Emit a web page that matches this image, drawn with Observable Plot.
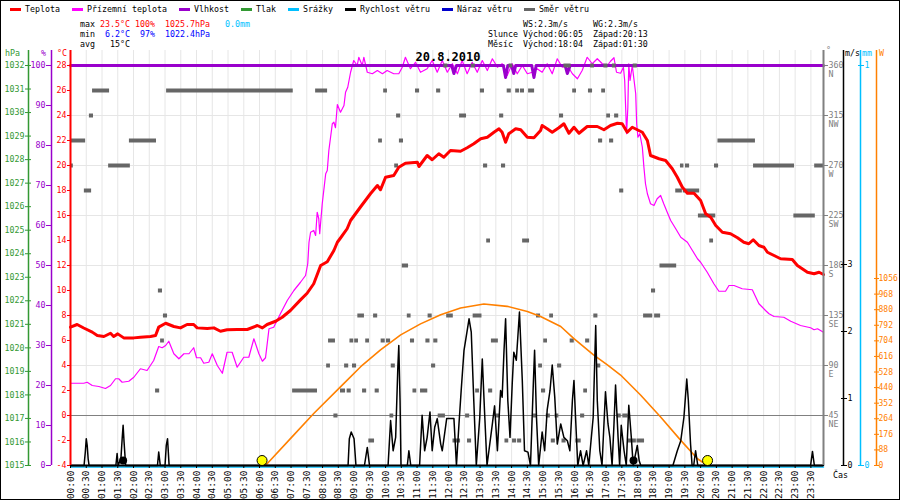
<!DOCTYPE html>
<html><head><meta charset="utf-8">
<script src="https://cdn.jsdelivr.net/npm/d3@7"></script>
<script src="https://cdn.jsdelivr.net/npm/@observablehq/plot@0.6"></script>
<style>
body{margin:0;background:#fff}
#wrap{position:relative;width:900px;height:500px;overflow:hidden;font-family:"DejaVu Sans Mono",monospace;background:#fff}
#chart svg{display:block;position:absolute;left:0;top:0}
#frame{position:absolute;left:0;top:0;width:900px;height:500px;box-sizing:border-box;border:1px solid #000;pointer-events:none}
.t{position:absolute;white-space:pre;font-size:8.3px;line-height:8.3px;color:#000}
.sw{position:absolute;height:3px;width:11px}
</style></head>
<body>
<div id="wrap"><div id="chart"></div><div id="hdr"></div><div id="frame"></div></div>
<script>
// ---------------- data ----------------
const temperature = [[0,7.07],[0.21,7.28],[0.42,7.0],[0.69,6.67],[0.85,6.4],[1.06,6.32],[1.27,6.58],[1.37,6.32],[1.5,6.53],[1.69,6.21],[2.01,6.21],[2.22,6.26],[2.54,6.32],[2.7,6.4],[2.8,7.07],[3.02,7.38],[3.28,7.12],[3.49,7.01],[3.7,7.28],[3.91,7.28],[4.02,7.01],[4.34,6.96],[4.55,7.01],[4.76,6.74],[4.97,6.86],[5.29,6.88],[5.61,6.88],[5.93,7.2],[6.09,7.01],[6.24,7.28],[6.51,7.54],[6.72,7.86],[6.98,8.4],[7.3,9.25],[7.51,9.78],[7.72,10.54],[7.94,12.0],[8.15,12.3],[8.36,13.2],[8.47,13.86],[8.57,14.2],[8.78,14.94],[8.89,15.6],[9.21,16.7],[9.52,17.74],[9.74,18.4],[9.84,18.06],[10.0,19.06],[10.26,19.2],[10.42,19.86],[10.63,20.18],[11.01,20.26],[11.06,19.92],[11.32,20.8],[11.48,20.46],[11.69,20.94],[11.85,20.66],[12.06,21.2],[12.38,21.14],[12.59,21.42],[12.8,21.74],[13.02,22.14],[13.23,22.26],[13.44,22.66],[13.6,22.94],[13.7,22.66],[13.81,21.86],[13.91,22.54],[14.13,22.94],[14.29,22.86],[14.5,22.26],[14.71,22.22],[14.92,22.8],[14.97,23.2],[15.13,22.94],[15.29,22.66],[15.5,23.02],[15.66,23.34],[15.82,22.58],[15.98,23.06],[16.14,22.58],[16.4,23.12],[16.72,23.12],[16.93,22.86],[17.14,23.2],[17.36,23.38],[17.51,23.34],[17.67,22.66],[17.83,23.06],[17.99,22.86],[18.15,22.66],[18.31,22.0],[18.41,20.8],[18.68,20.54],[18.89,20.4],[19.1,19.74],[19.26,19.06],[19.42,18.26],[19.58,17.78],[19.79,17.78],[20.0,17.2],[20.16,16.14],[20.32,15.86],[20.48,15.2],[20.69,14.66],[20.95,14.54],[21.17,14.22],[21.37,13.86],[21.53,13.74],[21.67,14.06],[21.85,13.6],[22.01,13.46],[22.12,13.06],[22.33,12.8],[22.54,12.54],[22.91,12.48],[23.07,12.0],[23.39,11.46],[23.6,11.34],[23.76,11.46],[23.9,11.28]];

const groundTemp = [[0,2.58],[0.42,2.58],[0.53,2.66],[0.69,2.4],[0.9,2.32],[1.11,2.16],[1.27,2.4],[1.43,2.94],[1.53,2.94],[1.64,2.66],[1.85,2.74],[2.01,3.06],[2.22,3.74],[2.43,3.6],[2.64,4.4],[2.8,5.52],[2.91,5.42],[3.02,5.6],[3.12,5.94],[3.28,4.94],[3.44,4.54],[3.6,4.94],[3.76,4.94],[3.91,5.42],[4.0,4.62],[4.13,4.62],[4.23,4.18],[4.39,4.26],[4.5,4.94],[4.66,4.0],[4.82,3.38],[4.97,5.06],[5.13,5.06],[5.29,3.86],[5.5,4.66],[5.66,4.66],[5.82,6.14],[5.98,4.94],[6.09,4.34],[6.19,4.62],[6.3,6.94],[6.45,7.06],[6.67,8.18],[6.88,9.2],[7.09,10.0],[7.3,10.66],[7.46,11.2],[7.53,12.14],[7.57,13.86],[7.62,14.66],[7.72,14.8],[7.78,14.4],[7.83,16.26],[7.88,15.74],[7.91,14.54],[7.99,16.94],[8.1,19.34],[8.15,19.6],[8.2,21.2],[8.31,23.34],[8.36,23.46],[8.41,23.02],[8.47,24.88],[8.57,24.26],[8.68,24.8],[8.73,25.86],[8.8,26.26],[8.89,27.46],[8.99,28.4],[9.1,28.0],[9.15,28.66],[9.26,28.0],[9.31,28.66],[9.42,27.46],[9.58,27.34],[9.74,27.6],[9.9,27.34],[10.05,27.6],[10.26,27.34],[10.42,27.34],[10.53,27.86],[10.63,28.66],[10.79,27.74],[10.95,28.26],[11.11,27.46],[11.32,27.74],[11.48,28.4],[11.64,27.46],[11.8,28.4],[11.96,27.46],[12.12,28.14],[12.28,27.34],[12.43,28.4],[12.59,27.34],[12.75,28.26],[12.91,27.46],[13.07,28.4],[13.23,27.6],[13.39,28.54],[13.55,27.86],[13.7,28.14],[13.86,27.2],[14.02,28.14],[14.18,27.34],[14.34,28.0],[14.5,27.34],[14.66,27.46],[14.81,27.74],[14.97,27.46],[15.13,28.14],[15.29,27.34],[15.45,28.54],[15.61,27.86],[15.77,28.0],[15.93,27.34],[16.09,26.94],[16.24,27.6],[16.4,28.66],[16.56,28.14],[16.72,28.54],[16.88,28.14],[17.04,28.0],[17.14,28.34],[17.25,28.62],[17.33,27.46],[17.46,27.38],[17.55,27.86],[17.59,26.8],[17.62,24.66],[17.65,22.54],[17.69,24.66],[17.72,28.14],[17.76,26.8],[17.83,28.0],[17.94,25.74],[17.97,23.34],[18.01,22.26],[18.07,22.54],[18.15,21.46],[18.2,19.86],[18.25,18.54],[18.31,17.74],[18.41,16.94],[18.52,16.8],[18.62,17.34],[18.73,17.6],[18.83,16.94],[18.94,16.26],[19.05,15.6],[19.21,14.94],[19.37,14.26],[19.58,13.86],[19.74,13.2],[19.9,12.54],[20.0,12.26],[20.21,11.46],[20.42,10.54],[20.58,9.94],[20.79,9.94],[20.9,10.4],[21.06,10.4],[21.32,10.14],[21.64,10.06],[21.85,8.94],[22.06,8.4],[22.17,8.14],[22.33,7.92],[22.64,7.86],[22.86,7.54],[23.17,7.2],[23.49,7.02],[23.6,6.86],[23.71,6.94],[23.9,6.66]];

const humidity = [[0,100],[12.1,100],[12.17,98],[12.25,100],[13.74,100],[13.81,97],[13.88,100],[14.0,100],[14.07,98],[14.13,100],[14.64,100],[14.71,97],[14.78,100],[15.7,100],[15.77,98],[15.86,100],[23.9,100]];

// wind direction: [start hour, end hour, degrees]
const windDir = [[0,0.09,270],[0.03,0.48,292.5],[0.44,0.67,247.5],[0.6,0.73,315],[0.7,1.24,337.5],[1.21,1.9,270],[1.87,2.73,292.5],[2.7,2.83,67.5],[2.79,2.92,157.5],[2.86,2.98,112.5],[2.95,3.08,135],[3.05,7.07,337.5],[7.05,7.84,67.5],[7.78,8.16,337.5],[8.13,8.25,90],[8.19,8.41,112.5],[8.36,8.49,45],
[10.53,10.73,180],
[9.12,9.33,135],[9.62,9.75,135],[10.69,10.81,135],[11.35,11.48,135],[11.94,12.15,135],[12.78,13.06,135],[14.79,14.92,135],[15.21,15.33,135],[16.61,16.74,135],
[8.87,8.99,112.5],[9.02,9.14,112.5],[9.37,9.49,112.5],[9.86,9.99,112.5],[10.03,10.16,112.5],[10.79,10.92,112.5],[11.28,11.41,112.5],[11.53,11.66,112.5],[13.36,13.58,112.5],[15.02,15.14,112.5],[15.86,15.99,112.5],[16.35,16.48,112.5],
[8.7,8.83,90],[8.95,9.08,90],[10.18,10.31,90],[11.46,11.59,90],[14.86,14.98,90],[15.46,15.59,90],[16.7,16.83,90],
[8.57,8.73,67.5],[8.78,8.91,67.5],[9.27,9.4,67.5],[9.67,9.8,67.5],[10.87,10.99,67.5],[11.11,11.34,67.5],[12.86,12.98,67.5],[13.27,13.4,67.5],[14.95,15.08,67.5],[16.29,16.41,67.5],
[10.14,10.26,45],[11.67,11.9,45],[12.54,12.67,45],[13.51,13.64,45],[14.69,14.81,45],[15.1,15.23,45],[15.38,15.5,45],[16.19,16.32,45],[17.35,17.48,45],[17.53,17.7,45],
[9.47,9.65,22.5],[12.14,12.38,22.5],[12.6,12.73,22.5],[13.79,13.91,22.5],[14.03,14.16,22.5],[14.19,14.32,22.5],[15.26,15.39,22.5],[15.6,15.73,22.5],[16.04,16.21,22.5],[17.69,17.96,22.5],[17.98,18.22,22.5],
[18.71,19.24,180],[18.44,18.57,157.5],[18.19,18.48,135],[18.54,18.73,135],
[16.93,17.06,360],[17.2,17.32,360],[17.86,17.99,360],[11.85,11.98,360],[12.72,12.85,360],[13.92,14.04,360],[15.66,15.89,360],[16.51,16.63,360],
[16.86,16.98,337.5],[9.94,10.06,337.5],[10.95,11.08,337.5],[11.62,11.75,337.5],[13.01,13.14,337.5],[13.86,13.99,337.5],[14.13,14.25,337.5],[14.28,14.41,337.5],[14.54,14.73,337.5],[15.94,16.06,337.5],[16.44,16.57,337.5],
[17.02,17.14,315],[17.27,17.4,315],[10.35,10.48,315],[12.35,12.57,315],[13.62,13.75,315],[15.52,15.65,315],
[17.11,17.24,292.5],[20.55,21.74,292.5],[9.78,9.9,292.5],[10.44,10.57,292.5],[16.76,16.89,292.5],
[19.36,19.47,270],[19.52,19.65,270],[20.44,20.57,270],[21.68,22.98,270],[23.62,23.9,270],[10.29,10.41,270],[13.11,13.24,270],[13.68,13.81,270],
[17.43,17.56,247.5],[19.21,19.42,247.5],[19.45,19.97,247.5],
[19.93,20.48,225],[22.96,23.64,225],
[20.29,20.41,202.5],[13.21,13.33,202.5],[14.35,14.57,202.5]];

// wind speed m/s: [hour, value]
const windSpeed = [[0,0],[0.43,0],[0.47,0.2],[0.5,0.4],[0.53,0.3],[0.56,0.1],[0.59,0],[1.44,0],[1.48,0.18],[1.51,0],[1.6,0.1],[1.64,0.4],[1.67,0.6],[1.7,0.35],[1.75,0],[2.76,0],[2.8,0.2],[2.85,0],[3.0,0],[3.04,0.3],[3.08,0.4],[3.13,0],[8.81,0],[8.85,0.4],[8.91,0.5],[9.0,0.4],[9.06,0],[9.33,0],[9.42,0.27],[9.49,0],[10.08,0],[10.16,0.67],[10.24,0.22],[10.32,0.42],[10.39,1.47],[10.42,1.79],[10.46,0.97],[10.49,0],[10.69,0],[10.74,0.22],[10.8,0],[11.08,0],[11.16,0.75],[11.24,0.22],[11.32,0.42],[11.41,0.8],[11.48,0.22],[11.56,0.57],[11.64,0.7],[11.75,0.32],[11.8,0.22],[11.94,0.7],[12.17,0.7],[12.25,0],[12.33,0.62],[12.4,1.12],[12.49,1.72],[12.65,2.19],[12.72,1.99],[12.8,0.97],[12.88,0],[12.99,0.72],[13.07,1.59],[13.14,0.82],[13.22,0],[13.39,0.62],[13.46,0.89],[13.55,0.22],[13.65,1.12],[13.7,1.02],[13.76,1.72],[13.81,2.19],[13.88,0.97],[13.95,0.42],[14.02,1.22],[14.07,1.69],[14.15,1.57],[14.25,2.29],[14.34,1.27],[14.41,0.22],[14.52,0.2],[14.6,0],[14.69,1.22],[14.73,1.72],[14.79,0.72],[14.86,0],[14.97,0.5],[15.05,0.22],[15.13,0.83],[15.22,1.12],[15.29,1.5],[15.37,1.02],[15.45,0.32],[15.56,0.62],[15.66,0.42],[15.77,0.37],[15.85,0.22],[15.93,0.97],[15.98,1.27],[16.03,0.72],[16.1,0],[16.19,0.22],[16.27,0],[16.38,0.22],[16.45,0],[16.59,0.72],[16.67,2.09],[16.72,0.97],[16.8,0.22],[16.87,0],[16.98,1.1],[17.06,0.62],[17.12,0.42],[17.19,0],[17.25,0.62],[17.3,1.2],[17.38,0.42],[17.43,0],[17.48,0.6],[17.57,0.22],[17.64,0],[17.72,0.9],[17.8,0.42],[17.86,0],[17.99,0.3],[18.05,0.07],[18.1,0],[19.12,0],[19.26,0.22],[19.37,0.37],[19.47,0.72],[19.56,1.29],[19.61,0.97],[19.68,0.32],[19.73,0],[19.78,0],[19.84,0.22],[19.91,0],[23.49,0],[23.55,0.21],[23.61,0],[23.9,0]];

// theoretical solar radiation W/m2: [hour, value]
const solar = [[6.08,0],[6.24,10],[6.98,152],[7.72,294],[8.68,464],[9.21,558],[9.84,653],[10.48,738],[11.11,800],[11.75,852],[12.38,890],[13.12,912],[13.86,899],[14.5,870],[14.92,842],[15.56,785],[15.97,718],[16.6,625],[17.04,568],[17.46,511],[18.1,397],[18.73,274],[19.37,142],[19.9,38],[20.22,0]];

const rain = [[0,0],[23.9,0]];
const sunEvents = [6.08, 20.22];
const moonEvents = [1.67, 17.87];

const halfHours = d3.range(0, 24, 0.5);
const gridTemps = [-4, 4, 8, 12, 16, 20, 24, 28];
const hpaTicks = d3.range(1015, 1033);
const humTicks = d3.range(0, 101, 10);
const tempTicks = d3.range(-4, 29, 2);
const dirTicks = [45, 90, 135, 180, 225, 270, 315, 360];
const compass = {45:"NE", 90:"E", 135:"SE", 180:"S", 225:"SW", 270:"W", 315:"NW", 360:"N"};
const windTicks = [0, 1, 2, 3];
const rainTicks = [0, 1];
const solarTicks = d3.range(0, 1057, 88);

const legendItems = [["Teplota","#ff0000"],["Přízemní teplota","#ff00ff"],["Vlhkost","#9900cc"],["Tlak","#339933"],["Srážky","#00bfff"],["Rychlost větru","#000000"],["Náraz větru","#0000cc"],["Směr větru","#666666"]];

// ------------- scale conversions onto the °C axis -------------
const xMax = 23.9, yMin = -4, yTop = 29.2;
const fromPress = p => -4 + (p - 1015) * 32 / 17, toPress = v => (v + 4) * 17 / 32 + 1015;
const fromHum = p => -4 + p * 0.32, toHum = v => (v + 4) / 0.32;
const fromDir = d => -4 + d * 32 / 360, toDir = v => (v + 4) * 360 / 32;
const fromWind = w => -4 + w * 5.36, toWind = v => (v + 4) / 5.36;
const fromRain = r => -4 + r * 32, toRain = v => (v + 4) / 32;
const fromSolar = W => -4 + W / 70.6, toSolar = v => (v + 4) * 70.6;
const markerLevel = -3.6;
const hhmm = h => String(Math.floor(h)).padStart(2, "0") + ":" + (h % 1 ? "30" : "00");
const int = v => String(Math.round(v));

const C = {red:"#ff0000", mag:"#ff00ff", pur:"#9900cc", grn:"#339933", cyan:"#00bfff", org:"#ff8000", gray:"#808080", dir:"#666666"};

const chart = Plot.plot({
  width: 900, height: 500,
  marginLeft: 70, marginRight: 77, marginTop: 50, marginBottom: 35,
  x: {domain: [0, xMax], axis: null},
  y: {domain: [yMin, yTop], axis: null},
  style: {fontFamily: "DejaVu Sans Mono, monospace", fontSize: "8.3px", background: "transparent", overflow: "visible"},
  marks: [
    Plot.gridX(halfHours, {stroke: "#e6e6e6", strokeOpacity: 1}),
    Plot.gridY(gridTemps, {stroke: "#e6e6e6", strokeOpacity: 1}),
    Plot.ruleY([fromDir(45)], {stroke: C.gray}),
    Plot.line(groundTemp, {x: d => d[0], y: d => d[1], stroke: C.mag, strokeWidth: 1.2}),
    Plot.line(humidity, {x: d => d[0], y: d => fromHum(d[1]), stroke: C.pur, strokeWidth: 3}),
    Plot.ruleY(windDir, {y: d => fromDir(d[2]), x1: d => d[0], x2: d => d[1], stroke: C.dir, strokeWidth: 4}),
    Plot.line(solar, {x: d => d[0], y: d => fromSolar(d[1]), stroke: C.org, strokeWidth: 1.6}),
    Plot.line(rain, {x: d => d[0], y: d => fromRain(d[1]), stroke: C.cyan, strokeWidth: 1.5, dy: 1.5}),
    Plot.line(windSpeed, {x: d => d[0], y: d => fromWind(d[1]), stroke: "#000", strokeWidth: 1.5}),
    Plot.ruleY([yMin], {stroke: "#000", strokeWidth: 2}),
    Plot.line(temperature, {x: d => d[0], y: d => d[1], stroke: C.red, strokeWidth: 3}),
    Plot.dot(sunEvents, {x: d => d, y: () => markerLevel, r: 5, fill: "#ffff00", stroke: "#000", strokeWidth: 1}),
    Plot.dot(moonEvents, {x: d => d, y: () => markerLevel, r: 4, fill: "#000"}),
    // left axes
    Plot.ruleX([0], {dx: -42, y1: yMin, y2: yTop, stroke: C.grn, strokeWidth: 1.5}),
    Plot.axisY({anchor: "left", ticks: hpaTicks.map(fromPress), tickFormat: v => int(toPress(v)), tickSize: 6, tickPadding: 1, dx: -39, color: C.grn}),
    Plot.ruleX([0], {dx: -19, y1: yMin, y2: yTop, stroke: C.pur, strokeWidth: 1.5}),
    Plot.axisY({anchor: "left", ticks: humTicks.map(fromHum), tickFormat: v => int(toHum(v)), tickSize: 5, tickPadding: 1, dx: -19, color: C.pur}),
    Plot.ruleX([0], {y1: yMin, y2: yTop, stroke: C.red, strokeWidth: 2}),
    Plot.axisY({anchor: "left", ticks: tempTicks, tickFormat: v => String(v), tickSize: 3, tickPadding: 1, color: C.red}),
    // right axes
    Plot.ruleX([xMax], {y1: yMin, y2: yTop, stroke: C.gray, strokeWidth: 2}),
    Plot.axisY({anchor: "right", ticks: dirTicks.map(fromDir), tickFormat: v => int(toDir(v)), tickSize: 4, tickPadding: 1, color: C.gray}),
    Plot.axisY({anchor: "right", ticks: dirTicks.map(fromDir), tickFormat: v => compass[Math.round(toDir(v))], tickSize: 0, tickPadding: 5, dy: 8.5, color: C.gray}),
    Plot.ruleX([xMax], {dx: 20, y1: yMin, y2: yTop, stroke: "#000", strokeWidth: 1.5}),
    Plot.axisY({anchor: "right", ticks: windTicks.map(fromWind), tickFormat: v => int(toWind(v)), tickSize: 6, tickPadding: 1, dx: 17, color: "#000"}),
    Plot.ruleX([xMax], {dx: 37, y1: yMin, y2: yTop, stroke: C.cyan, strokeWidth: 1.5}),
    Plot.axisY({anchor: "right", ticks: rainTicks.map(fromRain), tickFormat: v => int(toRain(v)), tickSize: 6, tickPadding: 1, dx: 34, color: C.cyan}),
    Plot.ruleX([xMax], {dx: 53, y1: yMin, y2: yTop, stroke: C.org, strokeWidth: 1.5}),
    Plot.axisY({anchor: "right", ticks: solarTicks.map(fromSolar), tickFormat: v => int(toSolar(v)), tickSize: 5, tickPadding: 0, dx: 50, fontSize: 8, color: C.org}),
    // time axis
    Plot.axisX({ticks: halfHours, tickFormat: hhmm, tickRotate: -90, tickSize: 3, tickPadding: 2, fontSize: 9.5, color: "#000"})
  ]
});
document.getElementById("chart").appendChild(chart);

// ------------- header / overlay texts -------------
const hdr = document.getElementById("hdr");
function txt(x, y, html, extra) {
  const d = document.createElement("div");
  d.className = "t"; d.style.left = x + "px"; d.style.top = y + "px";
  d.innerHTML = html; if (extra) Object.assign(d.style, extra);
  hdr.appendChild(d); return d;
}
let cx = 10;
for (const [label, color] of legendItems) {
  const s = document.createElement("div");
  s.className = "sw"; s.style.left = cx + "px"; s.style.top = "8px"; s.style.background = color;
  hdr.appendChild(s);
  txt(cx + 15, 5, label);
  cx += 15 + label.length * 5 + 12;
}
const r = s => `<span style="color:#ff0000">${s}</span>`;
const b = s => `<span style="color:#0000ff">${s}</span>`;
const c = s => `<span style="color:#00bfff">${s}</span>`;
txt(80, 20, `max ${r("23.5°C")} ${r("100%")}  ${r("1025.7hPa")}   ${c("0.0mm")}`);
txt(80, 30, `min  ${b("6.2°C")}  ${b("97%")}  ${b("1022.4hPa")}`);
txt(80, 40, `avg   15°C`);
txt(523, 20, `WS:2.3m/s     WG:2.3m/s`);
txt(488, 30, `Slunce Východ:06:05  Západ:20:13`);
txt(488, 40, `Měsíc  Východ:18:04  Západ:01:30`);
txt(5, 49, "hPa", {color: C.grn});
txt(41, 49, "%", {color: C.pur});
txt(57, 49, "°C", {color: C.red});
txt(826, 46, "°", {color: C.gray});
txt(845, 49, "m/s", {color: "#000"});
txt(862, 49, "mm", {color: C.cyan});
txt(879, 49, "W", {color: C.org});
txt(833, 471, "Čas");
txt(448, 51, "20.8.2010", {fontSize: "12px", lineHeight: "12px", fontWeight: "bold", transform: "translateX(-50%)"});
</script>
</body></html>
